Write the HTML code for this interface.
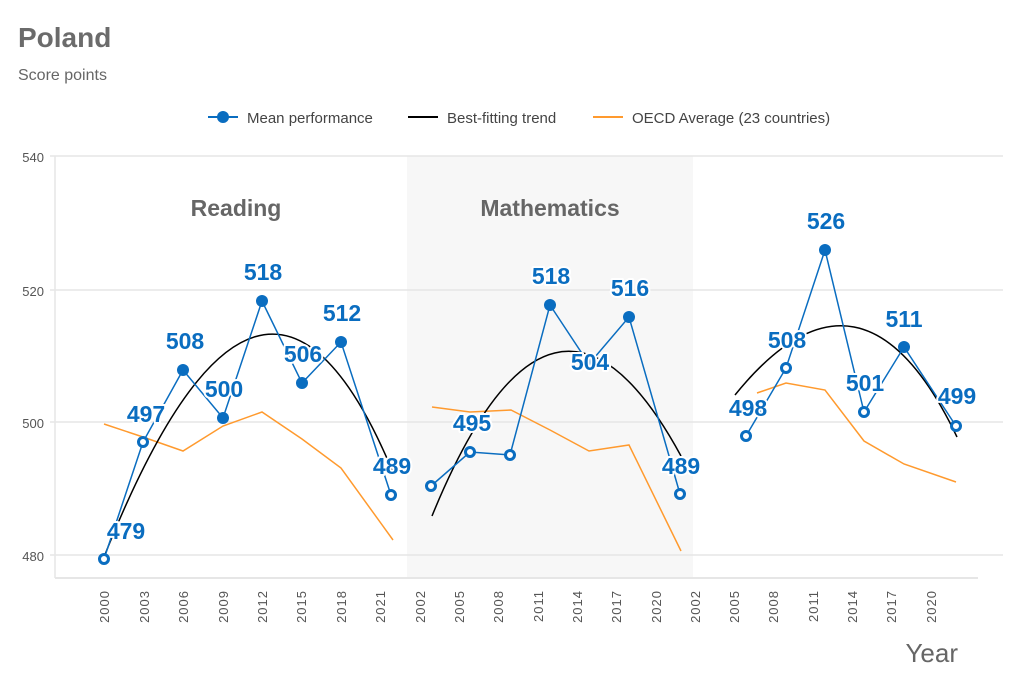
<!DOCTYPE html>
<html><head><meta charset="utf-8"><style>
body{margin:0;background:#fff;}
svg text{font-family:"Liberation Sans",sans-serif;}
.lbl{font-size:23px;font-weight:bold;fill:#0a6dc0;stroke:#fff;stroke-width:4px;paint-order:stroke;stroke-linejoin:round;}
.tk{font-size:13px;fill:#555;letter-spacing:1px;}
</style></head><body>
<svg width="1023" height="682" viewBox="0 0 1023 682" xmlns="http://www.w3.org/2000/svg">
<text x="18" y="47" font-size="28" font-weight="bold" fill="#6b6b6b">Poland</text>
<text x="18" y="80" font-size="16" fill="#666">Score points</text>
<line x1="208" y1="117" x2="238" y2="117" stroke="#0a6dc0" stroke-width="2"/>
<circle cx="223" cy="117" r="6" fill="#0a6dc0"/>
<text x="247" y="123" font-size="15" fill="#444">Mean performance</text>
<line x1="408" y1="117" x2="438" y2="117" stroke="#000" stroke-width="2"/>
<text x="447" y="123" font-size="15" fill="#444">Best-fitting trend</text>
<line x1="593" y1="117" x2="623" y2="117" stroke="#ff9a2e" stroke-width="2"/>
<text x="632" y="123" font-size="15" fill="#444">OECD Average (23 countries)</text>
<rect x="407" y="156" width="286" height="422" fill="#f7f7f7"/>
<g stroke="#e6e6e6" stroke-width="1.5">
<line x1="50" y1="156" x2="1003" y2="156"/><line x1="50" y1="290" x2="1003" y2="290"/>
<line x1="50" y1="422" x2="1003" y2="422"/><line x1="50" y1="555" x2="1003" y2="555"/>
</g>
<line x1="55" y1="156" x2="55" y2="578" stroke="#e6e6e6" stroke-width="1.5"/>
<line x1="55" y1="578" x2="978" y2="578" stroke="#e6e6e6" stroke-width="2"/>
<g font-size="13" fill="#555" text-anchor="end">
<text x="44" y="162">540</text><text x="44" y="296">520</text><text x="44" y="428">500</text><text x="44" y="561">480</text>
</g>
<g class="tk" text-anchor="end">
<text transform="translate(109,590) rotate(-90)">2000</text>
<text transform="translate(149,590) rotate(-90)">2003</text>
<text transform="translate(188,590) rotate(-90)">2006</text>
<text transform="translate(228,590) rotate(-90)">2009</text>
<text transform="translate(267,590) rotate(-90)">2012</text>
<text transform="translate(306,590) rotate(-90)">2015</text>
<text transform="translate(346,590) rotate(-90)">2018</text>
<text transform="translate(385,590) rotate(-90)">2021</text>
<text transform="translate(425,590) rotate(-90)">2002</text>
<text transform="translate(464,590) rotate(-90)">2005</text>
<text transform="translate(503,590) rotate(-90)">2008</text>
<text transform="translate(543,590) rotate(-90)">2011</text>
<text transform="translate(582,590) rotate(-90)">2014</text>
<text transform="translate(621,590) rotate(-90)">2017</text>
<text transform="translate(661,590) rotate(-90)">2020</text>
<text transform="translate(700,590) rotate(-90)">2002</text>
<text transform="translate(739,590) rotate(-90)">2005</text>
<text transform="translate(778,590) rotate(-90)">2008</text>
<text transform="translate(818,590) rotate(-90)">2011</text>
<text transform="translate(857,590) rotate(-90)">2014</text>
<text transform="translate(896,590) rotate(-90)">2017</text>
<text transform="translate(936,590) rotate(-90)">2020</text>
</g>
<text x="958" y="662" font-size="26" fill="#666" text-anchor="end">Year</text>
<text x="236" y="216" font-size="23" font-weight="bold" fill="#666" text-anchor="middle">Reading</text>
<text x="550" y="216" font-size="23" font-weight="bold" fill="#666" text-anchor="middle">Mathematics</text>
<g fill="none" stroke="#ff9a2e" stroke-width="1.5">
<polyline points="104,424 143,437 183,451 223,426 262,412 302,439 341,468 393,540"/>
<polyline points="432,407 470,412 511,410 550,430 589,451 629,445 681,551"/>
<polyline points="757,393 786,383 825,390 864,441 904,464 956,482"/>
</g>
<g fill="none" stroke="#000" stroke-width="1.5">
<path d="M104,557 Q 262,160 392,470"/>
<path d="M432,516 Q 553,220 681,456"/>
<path d="M735,395 Q 862,238 957,437"/>
</g>
<g fill="none" stroke="#0a6dc0" stroke-width="1.5">
<polyline points="104,559 143,442 183,370 223,418 262,301 302,383 341,342 391,495"/>
<polyline points="431,486 470,452 510,455 550,305 589,364 629,317 680,494"/>
<polyline points="746,436 786,368 825,250 864,412 904,347 956,426"/>
</g>
<g fill="#fff" stroke="#0a6dc0" stroke-width="3">
<circle cx="104" cy="559" r="4.5"/><circle cx="143" cy="442" r="4.5"/><circle cx="391" cy="495" r="4.5"/>
<circle cx="431" cy="486" r="4.5"/><circle cx="470" cy="452" r="4.5"/><circle cx="510" cy="455" r="4.5"/><circle cx="680" cy="494" r="4.5"/>
<circle cx="746" cy="436" r="4.5"/><circle cx="786" cy="368" r="4.5"/><circle cx="864" cy="412" r="4.5"/><circle cx="956" cy="426" r="4.5"/>
</g>
<g fill="#0a6dc0">
<circle cx="183" cy="370" r="6"/><circle cx="223" cy="418" r="6"/><circle cx="262" cy="301" r="6"/><circle cx="302" cy="383" r="6"/><circle cx="341" cy="342" r="6"/>
<circle cx="550" cy="305" r="6"/><circle cx="589" cy="364" r="6"/><circle cx="629" cy="317" r="6"/>
<circle cx="825" cy="250" r="6"/><circle cx="904" cy="347" r="6"/>
</g>
<g class="lbl" text-anchor="middle">
<text x="126" y="539">479</text><text x="146" y="422">497</text><text x="185" y="349">508</text><text x="224" y="397">500</text>
<text x="263" y="280">518</text><text x="303" y="362">506</text><text x="342" y="321">512</text><text x="392" y="474">489</text>
<text x="472" y="431">495</text><text x="551" y="284">518</text><text x="590" y="370">504</text><text x="630" y="296">516</text><text x="681" y="474">489</text>
<text x="748" y="416">498</text><text x="787" y="348">508</text><text x="826" y="229">526</text><text x="865" y="391">501</text><text x="904" y="327">511</text><text x="957" y="404">499</text>
</g>
</svg>
</body></html>
